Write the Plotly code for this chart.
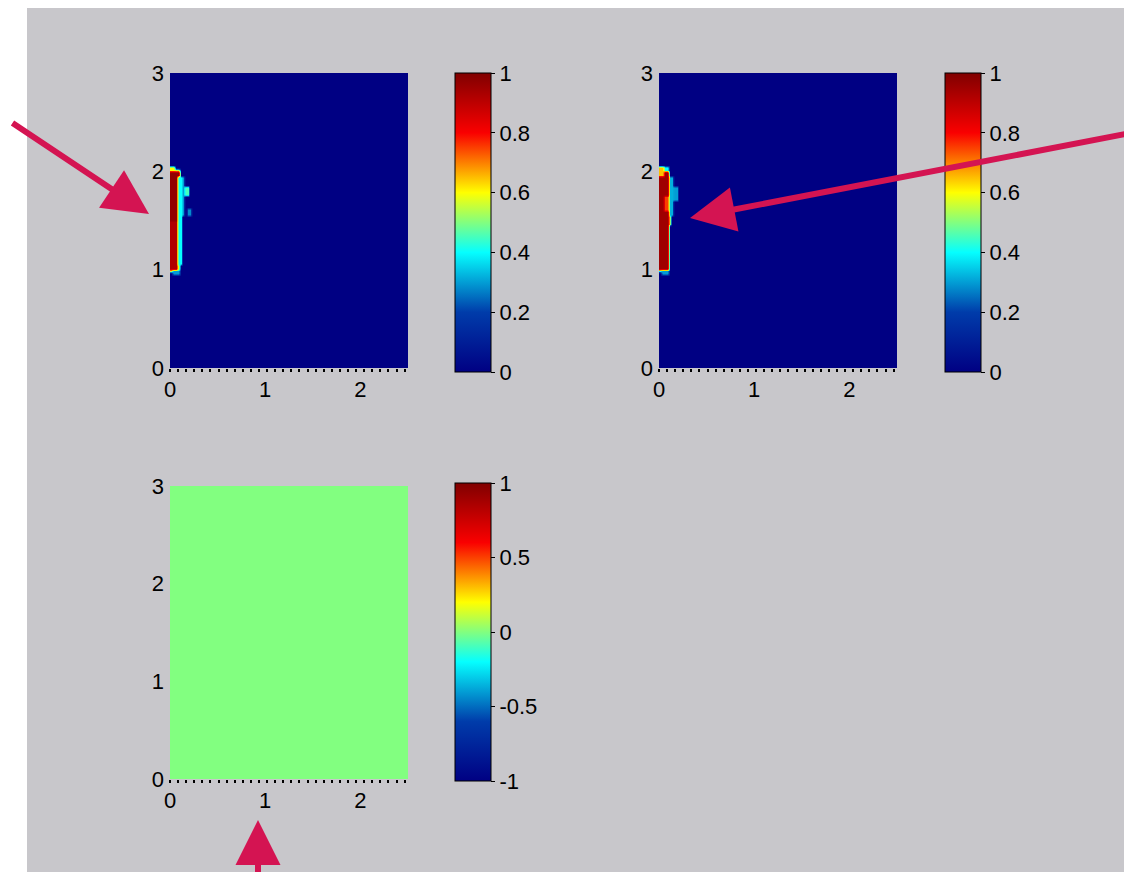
import numpy as np
import plotly.graph_objects as go

# ---------------- data ----------------
x_ticks = [0, 1, 2]
y_ticks = [0, 1, 2, 3]
grid_dx = 0.025
grid_dy = 0.025
n_cols = 100   # 0 .. 2.5
n_rows = 120   # 0 .. 3

# nonzero patches: [x0, x1, y0, y1, value]
panel1_patches = [
    [0.00, 0.10, 0.98, 2.02, 0.55],
    [0.00, 0.08, 1.00, 2.00, 0.92],
    [0.00, 0.10, 1.50, 2.00, 0.97],
    [0.08, 0.13, 1.05, 1.95, 0.40],
    [0.12, 0.16, 1.55, 1.95, 0.30],
    [0.15, 0.20, 1.75, 1.85, 0.45],
    [0.17, 0.22, 1.55, 1.62, 0.28],
    [0.00, 0.05, 2.00, 2.06, 0.60],
    [0.02, 0.10, 0.94, 1.00, 0.30],
]
panel2_patches = [
    [0.00, 0.11, 0.98, 2.04, 0.40],
    [0.00, 0.09, 1.00, 2.00, 0.95],
    [0.05, 0.10, 1.60, 1.75, 0.75],
    [0.09, 0.13, 1.45, 1.55, 0.50],
    [0.10, 0.16, 1.55, 1.95, 0.32],
    [0.15, 0.20, 1.70, 1.85, 0.30],
    [0.00, 0.05, 1.96, 2.05, 0.65],
    [0.02, 0.09, 0.94, 1.00, 0.30],
]
panel3_value = 0.0

cb12_ticks = [0, 0.2, 0.4, 0.6, 0.8, 1]
cb12_labels = ["0", "0.2", "0.4", "0.6", "0.8", "1"]
cb3_ticks = [-1, -0.5, 0, 0.5, 1]
cb3_labels = ["-1", "-0.5", "0", "0.5", "1"]


def build(patches):
    z = np.zeros((n_rows, n_cols))
    for x0, x1, y0, y1, v in patches:
        c0, c1 = int(round(x0 / grid_dx)), int(round(x1 / grid_dx))
        r0, r1 = int(round(y0 / grid_dy)), int(round(y1 / grid_dy))
        z[r0:r1, c0:c1] = v
    return z


z1 = build(panel1_patches)
z2 = build(panel2_patches)
z3 = np.full((n_rows, n_cols), panel3_value)

W, H = 1140, 872
OFF = 8  # page body margin
font = dict(family="Liberation Sans, Arial, sans-serif", size=22, color="black")


def px_x(p):
    return (p - OFF) / W


def px_y(p):
    return 1 - (p - OFF) / H


def cbar(x_left, y_top, y_bot, vals, labels):
    return dict(
        x=px_x(x_left), xanchor="left", y=px_y(y_top), yanchor="top",
        len=(y_bot - y_top) / H, lenmode="fraction", thickness=36,
        thicknessmode="pixels", xpad=0, ypad=0, outlinewidth=1,
        outlinecolor="black", tickvals=vals, ticktext=labels,
        ticks="outside", ticklen=4, tickcolor="black", tickfont=font,
    )


common = dict(colorscale="Jet", x0=grid_dx / 2, dx=grid_dx,
              y0=grid_dy / 2, dy=grid_dy, zsmooth="best")

fig = go.Figure()
fig.add_trace(go.Heatmap(z=z1, zmin=0, zmax=1, xaxis="x", yaxis="y",
                         colorbar=cbar(455, 73, 372, cb12_ticks, cb12_labels), **common))
fig.add_trace(go.Heatmap(z=z2, zmin=0, zmax=1, xaxis="x2", yaxis="y2",
                         colorbar=cbar(945, 73, 372, cb12_ticks, cb12_labels), **common))
fig.add_trace(go.Heatmap(z=z3, zmin=-1, zmax=1, xaxis="x3", yaxis="y3",
                         colorbar=cbar(455, 483, 781, cb3_ticks, cb3_labels), **common))


def xax(l, r, anchor):
    return dict(domain=[px_x(l), px_x(r)], range=[0, 2.5], anchor=anchor,
                tickvals=x_ticks, tickfont=font, showgrid=False, zeroline=False,
                ticks="", ticklabelstandoff=6, showline=False, automargin=False,
                minor=dict(ticks="outside", ticklen=3, tickwidth=2,
                           tickcolor="black", dtick=0.085, tick0=0.0, showgrid=False))


def yax(t, b, anchor):
    return dict(domain=[px_y(b), px_y(t)], range=[0, 3], anchor=anchor,
                tickvals=y_ticks, tickfont=font, showgrid=False, zeroline=False,
                ticks="", ticklabelstandoff=5, showline=False, automargin=False)


fig.update_layout(
    width=W, height=H, margin=dict(l=0, r=0, t=0, b=0, autoexpand=False),
    paper_bgcolor="white", plot_bgcolor="rgb(200,199,203)",
    showlegend=False,
    xaxis=xax(170, 408, "y"), yaxis=yax(73, 368, "x"),
    xaxis2=xax(659, 897, "y2"), yaxis2=yax(73, 368, "x2"),
    xaxis3=xax(170, 408, "y3"), yaxis3=yax(486, 779, "x3"),
    shapes=[dict(type="rect", xref="paper", yref="paper", x0=px_x(27), x1=1.0,
                 y0=0.0, y1=1.0, fillcolor="rgb(200,199,203)",
                 line=dict(width=0), layer="below")],
)

arrow_color = "rgb(212,20,82)"
arrows = [
    (149, 214, -138, -92),
    (690, 218, 446, -86),
    (258, 820, 0, 58),
]
for hx, hy, ax, ay in arrows:
    fig.add_annotation(x=px_x(hx), y=px_y(hy), xref="paper", yref="paper",
                       text="", showarrow=True, arrowhead=2, arrowsize=1.5,
                       arrowwidth=6, arrowcolor=arrow_color, ax=ax, ay=ay)

fig.write_html("out.html")
